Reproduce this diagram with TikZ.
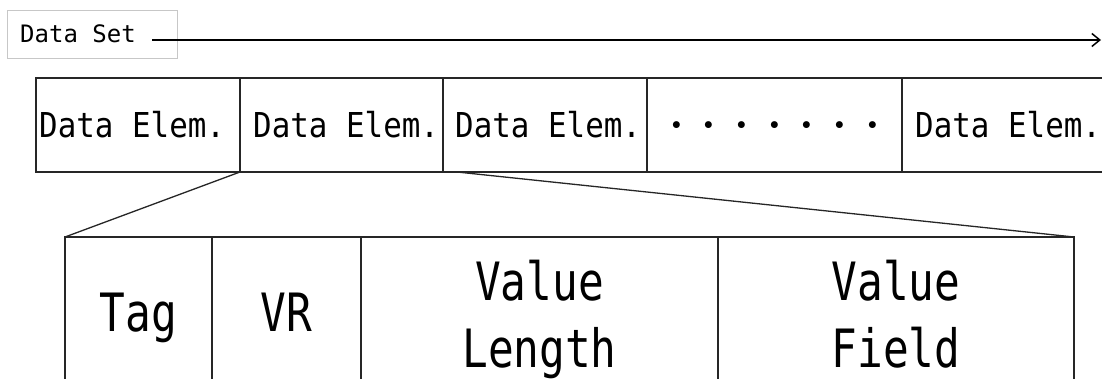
\documentclass[tikz,border=0pt]{standalone}
\usepackage{fontspec}
\usetikzlibrary{arrows.meta}
% monospaced gothic-like faces, condensed to fit the cells
\newfontfamily\setfont[FakeStretch=1.0]{DejaVu Sans Mono}
\newfontfamily\elemfont[FakeStretch=0.9]{DejaVu Sans Mono}
\newfontfamily\fieldfont[FakeStretch=0.81]{DejaVu Sans Mono}
\newfontfamily\dotfont{Noto Sans CJK JP}

\begin{document}
\begin{tikzpicture}[x=1pt,y=-1pt,
  box/.style={draw=black!85, line width=1.3pt, rectangle, inner sep=0pt,
              outer sep=0pt, anchor=north west},
  elembox/.style={box, minimum height=94pt},
  elemtext/.style={inner sep=0pt, anchor=west,
                   font=\elemfont\fontsize{34.3}{40}\selectfont},
  fieldbox/.style={box, minimum height=200pt},
  fieldtext/.style={inner sep=0pt, anchor=base, align=center,
                    font=\fieldfont\fontsize{52.8}{67}\selectfont},
  link/.style={line width=1.3pt, draw=black!85},
  seqarrow/.style={line width=1.5pt, -{Straight Barb[length=8pt,width=13pt]}},
]
\useasboundingbox (0,0) rectangle (1102,379);
\clip (0,0) rectangle (1102,379);

% data set label and its direction arrow
\node[box, draw=black!22, line width=0.8pt, minimum width=170pt,
      minimum height=48pt] (setbox) at (7,10) {};
\node[inner sep=0pt, anchor=base west,
      font=\setfont\fontsize{24}{28}\selectfont] (settext) at (20,43) {Data Set};
\coordinate (setstart) at (152,40);
\coordinate (setend) at (1101,40);
\draw[seqarrow] (setstart) -- (setend);

% row of data elements
\node[elembox, minimum width=204pt] (e1) at (36,78) {};
\node[elembox, minimum width=203pt] (e2) at (240,78) {};
\node[elembox, minimum width=204pt] (e3) at (443,78) {};
\node[elembox, minimum width=255pt] (e4) at (647,78) {};
\node[elembox, minimum width=220pt] (e5) at (902,78) {};

\node[elemtext] (t1) at ([xshift=3pt]e1.west) {Data Elem.};
\node[elemtext] (t2) at ([xshift=13pt]e2.west) {Data Elem.};
\node[elemtext] (t3) at ([xshift=12pt]e3.west) {Data Elem.};
\node[inner sep=0pt, font=\dotfont\fontsize{32.7}{36}\selectfont]
      (dots) at ([yshift=-5pt]e4.center) {・・・・・・・};
\node[elemtext] (t5) at ([xshift=13pt]e5.west) {Data Elem.};

% structure of one data element
\node[fieldbox, minimum width=147pt] (tag) at (65,237) {};
\node[fieldbox, minimum width=149pt] (vr) at (212,237) {};
\node[fieldbox, minimum width=357pt] (vlen) at (361,237) {};
\node[fieldbox, minimum width=356pt] (vfield) at (718,237) {};

\node[fieldtext] (tagtext) at ([yshift=-94pt]tag.north) {Tag};
\node[fieldtext] (vrtext) at ([yshift=-94pt]vr.north) {VR};
\node[fieldtext] (vlentext) at ([yshift=-130pt]vlen.north) {Value\\Length};
\node[fieldtext] (vfieldtext) at ([yshift=-130pt]vfield.north) {Value\\Field};

% expansion lines
\draw[link] (e2.south west) -- (tag.north west);
\draw[link] ([xshift=14pt]e3.south west) -- (vfield.north east);
\end{tikzpicture}
\end{document}
